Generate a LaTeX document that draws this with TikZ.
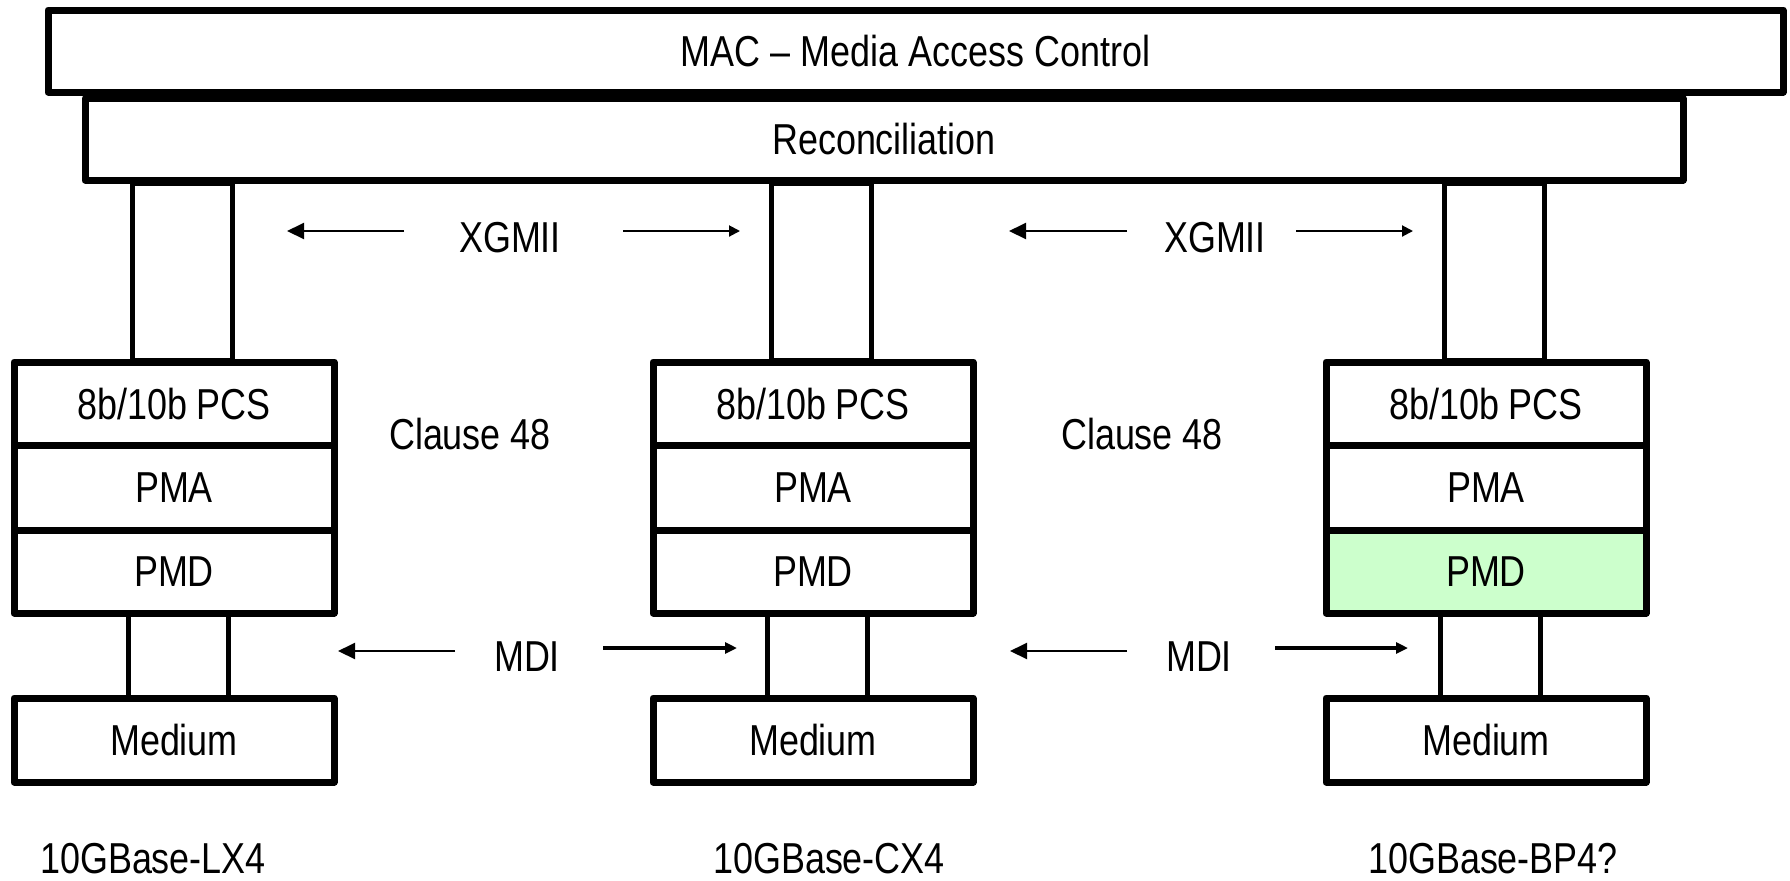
\documentclass[tikz,border=0pt]{standalone}
\usepackage{fontspec}
\setmainfont[FakeStretch=0.83]{Liberation Sans}
\usetikzlibrary{arrows.meta}
\definecolor{pmdgreen}{HTML}{CCFFCC}
\begin{document}
\begin{tikzpicture}[x=0.5pt,y=-0.5pt,
  every node/.style={font=\fontsize{21.65pt}{26pt}\selectfont, inner sep=0pt, text depth=0pt},
  box/.style={draw, line width=3.5pt, line join=round, fill=white},
  stemrect/.style={draw, line width=2.75pt, line join=round},
  stemline/.style={draw, line width=2.75pt},
  larr/.style={line width=1pt, -{Triangle[length=8.5pt,width=8pt]}},
  rarr/.style={line width=1pt, -{Triangle[length=5.5pt,width=5.5pt]}},
  rarrb/.style={line width=1.75pt, -{Triangle[length=6pt,width=5.5pt]}}]
\useasboundingbox (0,0) rectangle (1790,880);

% top layers
\node[box, minimum width=867.5pt, minimum height=41pt] (mac) at (915.5,51) {MAC \textendash{} Media Access Control};
\node[box, minimum width=799pt, minimum height=40.75pt] (recon) at (884,139.25) {Reconciliation};

% columns
\foreach \i/\l/\f in {1/14/white, 2/653/white, 3/1326/pmdgreen} {
  \node[box, minimum width=160pt, minimum height=41.5pt] (pcs\i) at (\l+160,403.5) {8b/10b PCS};
  \node[box, minimum width=160pt, minimum height=42.5pt] (pma\i) at (\l+160,487.5) {PMA};
  \node[box, fill=\f, minimum width=160pt, minimum height=41.5pt] (pmd\i) at (\l+160,571.5) {PMD};
  \node[box, minimum width=160pt, minimum height=42pt] (med\i) at (\l+160,740) {Medium};
  % upper stem (XGMII link)
  \path ([xshift=61pt,yshift=-1pt]pcs\i.north west) coordinate (sa\i);
  \path ([xshift=111pt]pcs\i.north west) coordinate (sb\i);
  \draw[stemrect] (sa\i) rectangle (sb\i |- recon.south);
  % lower stem (MDI link)
  \draw[stemline] ([xshift=59pt]pmd\i.south west) -- ([xshift=59pt]med\i.north west);
  \draw[stemline] ([xshift=109pt]pmd\i.south west) -- ([xshift=109pt]med\i.north west);
}

% labels
\node (xg1) at (510,237) {XGMII};
\node (xg2) at (1215,237) {XGMII};
\node (cl1) at (470,434) {Clause 48};
\node (cl2) at (1142,434) {Clause 48};
\node (mdi1) at (527,657) {MDI};
\node (mdi2) at (1199,657) {MDI};
\node (lab1) at (153,858) {10GBase-LX4};
\node (lab2) at (829,858) {10GBase-CX4};
\node (lab3) at (1493,858) {10GBase-BP4?};

% arrows
\coordinate (xa1) at (404,231); \coordinate (xa1t) at (287,231);
\coordinate (xb1) at (623,231); \coordinate (xb1t) at (740,231);
\coordinate (xa2) at (1127,231); \coordinate (xa2t) at (1009,231);
\coordinate (xb2) at (1296,231); \coordinate (xb2t) at (1413,231);
\coordinate (ma1) at (455,651); \coordinate (ma1t) at (338,651);
\coordinate (mb1) at (603,648); \coordinate (mb1t) at (737,648);
\coordinate (ma2) at (1127,651); \coordinate (ma2t) at (1010,651);
\coordinate (mb2) at (1275,648); \coordinate (mb2t) at (1408,648);
\draw[larr] (xa1) -- (xa1t);
\draw[rarr] (xb1) -- (xb1t);
\draw[larr] (xa2) -- (xa2t);
\draw[rarr] (xb2) -- (xb2t);
\draw[larr] (ma1) -- (ma1t);
\draw[rarrb] (mb1) -- (mb1t);
\draw[larr] (ma2) -- (ma2t);
\draw[rarrb] (mb2) -- (mb2t);
\end{tikzpicture}
\end{document}
